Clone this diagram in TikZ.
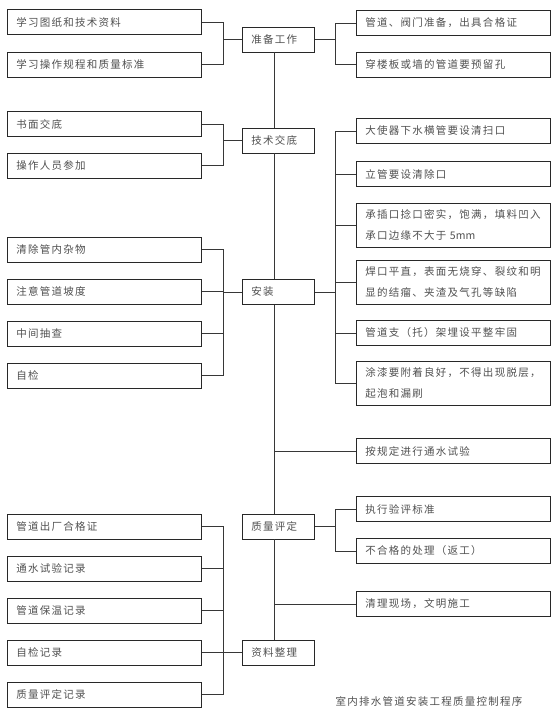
\documentclass[tikz,border=0pt]{standalone}
\usepackage{fontspec}
\setmainfont{Noto Sans CJK SC}[LetterSpace=12]
\usetikzlibrary{calc}
\definecolor{boxgray}{RGB}{40,40,40}
\definecolor{linegray}{RGB}{55,55,55}
\definecolor{textgray}{RGB}{80,80,80}

\begin{document}
\begin{tikzpicture}[
    x=1pt, y=-1pt,
    box/.style={rectangle, draw=boxgray, line width=0.8pt, anchor=west,
                inner xsep=9pt, inner ysep=0pt, minimum height=25pt, align=left,
                text=textgray, font=\fontsize{10.5pt}{21pt}\selectfont},
    sidebox/.style={box, text width=176pt},
    tallbox/.style={sidebox, minimum height=44pt},
    midbox/.style={box, text width=54pt},
    link/.style={draw=linegray, line width=0.6pt},
]
    \useasboundingbox (0,0) rectangle (554,716);
    \coordinate (jl) at (223,0);
    \coordinate (jr) at (335,0);
    \coordinate (spine) at (274,0);

    % Main steps
    \node[midbox] (prep)  at (242,39.5)  {准备工作};
    \node[midbox] (brief) at (242,140.5) {技术交底};
    \node[midbox] (inst)  at (242,292)   {安装};
    \node[midbox] (qual)  at (242,526.5) {质量评定};
    \node[midbox] (docs)  at (242,652.5) {资料整理};

    % Left column
    \node[sidebox] (drw)     at (7,22)    {学习图纸和技术资料};
    \node[sidebox] (rules)   at (7,64.5)  {学习操作规程和质量标准};
    \node[sidebox] (written) at (7,124)   {书面交底};
    \node[sidebox] (staff)   at (7,165.5) {操作人员参加};
    \node[sidebox] (clean)   at (7,249.5) {清除管内杂物};
    \node[sidebox] (slope)   at (7,291.5) {注意管道坡度};
    \node[sidebox] (spot)    at (7,333.5) {中间抽查};
    \node[sidebox] (selfchk) at (7,375.5) {自检};
    \node[sidebox] (cert)    at (7,526.5) {管道出厂合格证};
    \node[sidebox] (testrec) at (7,568.5) {通水试验记录};
    \node[sidebox] (insul)   at (7,610.5) {管道保温记录};
    \node[sidebox] (selfrec) at (7,652.5) {自检记录};
    \node[sidebox] (qualrec) at (7,694.5) {质量评定记录};

    % Right column
    \node[sidebox] (valve)    at (356,23)  {管道、阀门准备，出具合格证};
    \node[sidebox] (sleeve)   at (356,64.5) {穿楼板或墙的管道要预留孔};
    \node[sidebox] (cleanout) at (356,131) {大使器下水横管要设清扫口};
    \node[sidebox] (riser)    at (356,174) {立管要设清除口};
    \node[tallbox] (joint)    at (356,225) {承插口捻口密实，饱满，填料凹入\\承口边缘不大于 {\addfontfeature{LetterSpace=0}5mm}};
    \node[tallbox] (weld)     at (356,282) {焊口平直，表面无烧穿、裂纹和明\\显的结瘤、夹渣及气孔等缺陷};
    \node[sidebox] (support)  at (356,333) {管道支（托）架埋设平整牢固};
    \node[tallbox] (paint)    at (356,383) {涂漆要附着良好，不得出现脱层，\\起泡和漏刷};
    \node[sidebox] (flowtest) at (356,451) {按规定进行通水试验};
    \node[sidebox] (std)      at (356,509) {执行验评标准};
    \node[sidebox] (rework)   at (356,551) {不合格的处理（返工）};
    \node[sidebox] (tidy)     at (356,604) {清理现场，文明施工};

    % Spine
    \draw[link] (prep.south -| spine) -- (brief.north -| spine);
    \draw[link] (brief.south -| spine) -- (inst.north -| spine);
    \draw[link] (inst.south -| spine) -- (qual.north -| spine);
    \draw[link] (qual.south -| spine) -- (docs.north -| spine);
    \draw[link] (flowtest.west) -- (flowtest.west -| spine);
    \draw[link] (tidy.west) -- (tidy.west -| spine);

    % Left brackets
    \draw[link] (prep.west) -- (prep.west -| jl);
    \foreach \b in {drw, rules} \draw[link] (\b.east) -| (prep.west -| jl);
    \draw[link] (brief.west) -- (brief.west -| jl);
    \foreach \b in {written, staff} \draw[link] (\b.east) -| (brief.west -| jl);
    \draw[link] (inst.west) -- (inst.west -| jl);
    \foreach \b in {clean, slope, spot, selfchk} \draw[link] (\b.east) -| (inst.west -| jl);
    \draw[link] (docs.west) -- (docs.west -| jl);
    \foreach \b in {cert, testrec, insul, selfrec, qualrec} \draw[link] (\b.east) -| (docs.west -| jl);

    % Right brackets
    \draw[link] (prep.east) -- (prep.east -| jr);
    \foreach \b in {valve, sleeve} \draw[link] (\b.west) -| (prep.east -| jr);
    \draw[link] (inst.east) -- (inst.east -| jr);
    \foreach \b in {cleanout, riser, joint, weld, support, paint} \draw[link] (\b.west) -| (inst.east -| jr);
    \draw[link] (qual.east) -- (qual.east -| jr);
    \foreach \b in {std, rework} \draw[link] (\b.west) -| (qual.east -| jr);

    \node[text=textgray, font=\fontsize{10.5pt}{21pt}\selectfont] (title) at (429,701) {室内排水管道安装工程质量控制程序};
\end{tikzpicture}
\end{document}
